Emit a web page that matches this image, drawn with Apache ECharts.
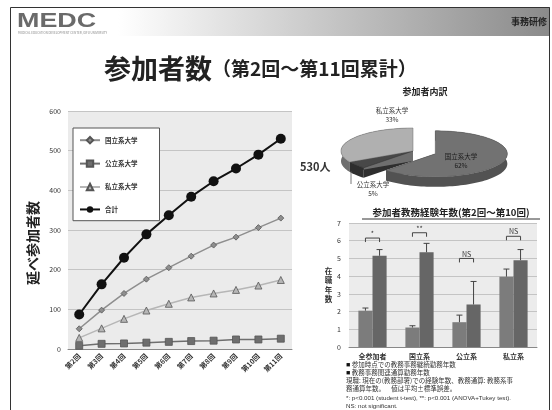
<!DOCTYPE html>
<html><head><meta charset="utf-8">
<script src="https://cdn.jsdelivr.net/npm/echarts@6/dist/echarts.min.js"></script>
<style>html,body{margin:0;padding:0;background:#fff}#c{width:552px;height:410px}</style>
</head><body><div id="c"></div>
<script>
// ---------- data ----------
const rounds = ['第2回','第3回','第4回','第5回','第6回','第7回','第8回','第9回','第10回','第11回'];
const nationalU = [51, 98, 140, 176, 205, 234, 262, 282, 306, 330];
const publicU   = [8, 13, 14, 16, 18, 20, 21, 24, 24, 26];
const privateU  = [28, 52, 76, 97, 114, 130, 140, 149, 160, 174];
const totalU    = [87, 163, 230, 289, 337, 384, 423, 455, 490, 530];
const lineSeriesNames = ['国立系大学','公立系大学','私立系大学','合計'];

const pieNames  = ['国立系大学','公立系大学','私立系大学'];
const pieShares = [62, 5, 33];

const barCats = ['全参加者','国立系','公立系','私立系'];
const barSeriesNames = ['参加時点での教務事務継続勤務年数','教務事務関連通算勤務年数'];
const currentYears = [2.05, 1.1, 1.4, 3.97];
const currentErr   = [0.15, 0.1, 0.4, 0.43];
const careerYears  = [5.15, 5.35, 2.4, 4.9];
const careerErr    = [0.35, 0.5, 1.3, 0.6];
const sigLabels = ['*', '**', 'NS', 'NS'];
const sigLevels = [6.15, 6.45, 5.0, 6.25];

// ---------- helpers ----------
const FONT = '"Noto Sans CJK JP","Noto Sans",sans-serif';
const pieTotal = pieShares.reduce((a, b) => a + b, 0);
const PIE = {cx: 413, cy: 151, rx: 72, ry: 23, depth: 10};
const pieExplode = [24, 0, 0];
const pieTop  = ['#727272', '#484848', '#b0b0b0'];
const pieSide = ['#525252', '#2e2e2e', '#6e6e6e'];

function pieRender(params, api) {
  const i = params.dataIndex;
  let before = 0;
  for (let k = 0; k < i; k++) before += pieShares[k];
  const a0 = before / pieTotal * 2 * Math.PI;
  const a1 = (before + pieShares[i]) / pieTotal * 2 * Math.PI;
  const mid = (a0 + a1) / 2;
  const ex = pieExplode[i];
  const cx = PIE.cx + Math.sin(mid) * ex;
  const cy = PIE.cy - Math.cos(mid) * ex * PIE.ry / PIE.rx;
  const pt = (a, d) => [cx + PIE.rx * Math.sin(a), cy - PIE.ry * Math.cos(a) + d];
  const n = Math.max(4, Math.ceil((a1 - a0) / 0.04));
  const top = [[cx, cy]], arcT = [], arcB = [];
  for (let s = 0; s <= n; s++) {
    const a = a0 + (a1 - a0) * s / n;
    top.push(pt(a, 0)); arcT.push(pt(a, 0)); arcB.push(pt(a, PIE.depth));
  }
  const band = arcT.concat(arcB.reverse());
  const cut = a => [[cx, cy], pt(a, 0), pt(a, PIE.depth), [cx, cy + PIE.depth]];
  return {type: 'group', children: [
    {type: 'polygon', z2: 1, shape: {points: cut(a0)}, style: {fill: pieSide[i]}},
    {type: 'polygon', z2: 1, shape: {points: cut(a1)}, style: {fill: pieSide[i]}},
    {type: 'polygon', z2: 2, shape: {points: band}, style: {fill: pieSide[i]}},
    {type: 'polygon', z2: 10, shape: {points: top}, style: {fill: pieTop[i], stroke: pieSide[i], lineWidth: 0.5}}
  ]};
}

function errRender(params, api) {
  const cat = api.value(0), mean = api.value(1), err = api.value(2), s = api.value(3);
  const bw = api.size([1, 0])[0];
  const off = (s === 0 ? -1 : 1) * bw * 0.15;
  const p0 = api.coord([cat, mean]), p1 = api.coord([cat, mean + err]);
  const x = p0[0] + off, cap = 3;
  return {type: 'group', children: [
    {type: 'line', shape: {x1: x, y1: p0[1], x2: x, y2: p1[1]}, style: {stroke: '#444', lineWidth: 1}},
    {type: 'line', shape: {x1: x - cap, y1: p1[1], x2: x + cap, y2: p1[1]}, style: {stroke: '#444', lineWidth: 1}}
  ]};
}

function sigRender(params, api) {
  const cat = api.value(0), lvl = api.value(1);
  const bw = api.size([1, 0])[0];
  const p = api.coord([cat, lvl]);
  const x1 = p[0] - bw * 0.15, x2 = p[0] + bw * 0.15, y = p[1];
  return {type: 'group', children: [
    {type: 'polyline', shape: {points: [[x1, y + 4], [x1, y], [x2, y], [x2, y + 4]]}, style: {stroke: '#444', lineWidth: 1, fill: null}},
    {type: 'text', style: {text: sigLabels[params.dataIndex], x: p[0], y: y - 1, align: 'center', textAlign: 'center', verticalAlign: 'bottom', textVerticalAlign: 'bottom', fontSize: 7, fontFamily: FONT, fill: '#333'}}
  ]};
}

const chart = echarts.init(document.getElementById('c'), null, {renderer: 'canvas'});

function txt(text, x, y, size, opts) {
  return Object.assign({type: 'text', silent: true, z: 100, style: Object.assign({
    text: text, x: x, y: y, fontSize: size, fontFamily: FONT, fill: '#333',
    align: 'left', textAlign: 'left', verticalAlign: 'middle', textVerticalAlign: 'middle'
  }, opts && opts.style || {})}, opts && opts.el || {});
}

const graphics = [
  // header band
  {type: 'rect', z: 0, shape: {x: 10, y: 7, width: 540, height: 29},
   style: {fill: new echarts.graphic.LinearGradient(0, 0, 1, 0, [
     {offset: 0, color: '#ffffff'}, {offset: 0.2, color: '#ffffff'}, {offset: 1, color: '#8a8a8a'}])}},
  {type: 'rect', z: 100, shape: {x: 10.5, y: 7.5, width: 539, height: 410}, style: {fill: null, stroke: '#333', lineWidth: 1}},
  txt('MEDC', 17, 21, 21, {style: {fontWeight: 'bold', fill: '#6a6a6a', fontFamily: '"Liberation Sans",Arial,sans-serif'}, el: {scaleX: 1.28, originX: 17, originY: 21}}),
  txt('MEDICAL EDUCATION DEVELOPMENT CENTER, GIFU UNIVERSITY', 18, 33, 3, {style: {fill: '#888'}}),
  txt('事務研修', 547, 22, 9, {style: {fontWeight: 'bold', fill: '#222', align: 'right', textAlign: 'right'}}),
  // title
  {type: 'text', silent: true, z: 100, style: {
    text: '{a|参加者数}{b|（第2回～第11回累計）}', x: 104, y: 69,
    verticalAlign: 'middle', textVerticalAlign: 'middle', fill: '#222',
    rich: {a: {fontSize: 27, fontWeight: 'bold', fontFamily: FONT, fill: '#222'},
           b: {fontSize: 19, fontWeight: 'bold', fontFamily: FONT, fill: '#222'}}}},
  // line chart y title
  txt('延べ参加者数', 33, 243, 14, {style: {fontWeight: 'bold', fill: '#222', align: 'center', textAlign: 'center'}, el: {rotation: Math.PI / 2, originX: 33, originY: 243}}),
  // pie annotations
  txt('参加者内訳', 425, 92, 9, {style: {fontWeight: 'bold', fill: '#222', align: 'center', textAlign: 'center'}}),
  txt(totalU[totalU.length - 1] + '人', 300, 167, 11, {style: {fontWeight: 'bold', fill: '#333'}}),
  txt(pieNames[2] + '\n' + pieShares[2] + '%', 392, 115, 6.5, {style: {align: 'center', textAlign: 'center', lineHeight: 9}}),
  txt(pieNames[0] + '\n' + pieShares[0] + '%', 461, 161, 6.5, {style: {align: 'center', textAlign: 'center', lineHeight: 9, fill: '#1a1a1a'}}),
  txt(pieNames[1] + '\n' + pieShares[1] + '%', 373, 189, 6.5, {style: {align: 'center', textAlign: 'center', lineHeight: 9}}),
  {type: 'line', z: 100, shape: {x1: 351, y1: 171, x2: 351, y2: 184}, style: {stroke: '#555', lineWidth: 0.8}},
  // bar chart title
  txt('参加者教務経験年数(第2回～第10回)', 451, 212, 9.5, {style: {fontWeight: 'bold', fill: '#222', align: 'center', textAlign: 'center'}}),
  {type: 'line', z: 100, shape: {x1: 362, y1: 219, x2: 540, y2: 219}, style: {stroke: '#333', lineWidth: 1}},
  // notes
  txt('{s|■} ' + barSeriesNames[0], 346, 365, 6.5, {style: {rich: {s: {fill: '#111', fontSize: 7}}}}),
  txt('{s|■} ' + barSeriesNames[1], 346, 373, 6.5, {style: {rich: {s: {fill: '#111', fontSize: 7}}}}),
  txt('現職: 現在の(教務部署)での経験年数、教務通算: 教務系事', 346, 381, 6.5),
  txt('務通算年数。　  値は平均±標準誤差。', 346, 389, 6.5),
  txt('*: p<0.001 (student t-test), **: p<0.001 (ANOVA+Tukey test).', 346, 398, 6.2, {style: {fontFamily: '"Liberation Sans",Arial,sans-serif'}}),
  txt('NS: not significant.', 346, 406, 6.2, {style: {fontFamily: '"Liberation Sans",Arial,sans-serif'}})
];

const lineColors = ['#8e8e8e', '#6e6e6e', '#b6b6b6', '#111111'];
const lineSymbols = ['diamond', 'rect', 'triangle', 'circle'];
const lineSizes = [6, 7, 7, 10];
const lineData = [nationalU, publicU, privateU, totalU];

const option = {
  animation: false,
  backgroundColor: '#ffffff',
  textStyle: {fontFamily: FONT},
  graphic: graphics,
  legend: {
    data: lineSeriesNames, orient: 'vertical', left: 73, top: 128, width: 72,
    itemGap: 15, itemWidth: 20, itemHeight: 8,
    padding: [8, 22, 8, 6],
    backgroundColor: '#ffffff', borderColor: '#555', borderWidth: 1,
    textStyle: {fontSize: 6.5, color: '#333', fontWeight: 'bold'}
  },
  grid: [
    {left: 68, top: 111, width: 224, height: 238, show: true, backgroundColor: '#ebebeb', borderWidth: 0},
    {left: 349, top: 223, width: 188, height: 124, show: true, backgroundColor: '#ececec', borderWidth: 0}
  ],
  xAxis: [
    {type: 'category', gridIndex: 0, data: rounds,
     axisLine: {lineStyle: {color: '#888'}}, axisTick: {show: false},
     axisLabel: {rotate: 45, fontSize: 7, fontWeight: 'bold', color: '#333', margin: 6, interval: 0}},
    {type: 'category', gridIndex: 1, data: barCats,
     axisLine: {lineStyle: {color: '#888'}}, axisTick: {show: false},
     axisLabel: {fontSize: 7, fontWeight: 'bold', color: '#333', margin: 6, interval: 0}}
  ],
  yAxis: [
    {type: 'value', gridIndex: 0, min: 0, max: 600, interval: 100,
     axisLine: {show: false}, axisTick: {show: false},
     splitLine: {lineStyle: {color: '#c4c4c4'}},
     axisLabel: {fontSize: 7, color: '#333', margin: 7}},
    {type: 'value', gridIndex: 1, min: 0, max: 7, interval: 1,
     axisLine: {show: false}, axisTick: {show: false},
     splitLine: {lineStyle: {color: '#c4c4c4'}},
     axisLabel: {fontSize: 7, color: '#333', margin: 8},
     name: '在\n職\n年\n数', nameLocation: 'middle', nameRotate: 0, nameGap: 16,
     nameTextStyle: {fontSize: 7.5, fontWeight: 'bold', color: '#333', lineHeight: 9.5}}
  ],
  series: lineData.map((d, i) => ({
    type: 'line', name: lineSeriesNames[i], xAxisIndex: 0, yAxisIndex: 0, data: d,
    symbol: lineSymbols[i], symbolSize: lineSizes[i], showAllSymbol: true,
    lineStyle: {color: lineColors[i], width: i === 3 ? 2 : 1.5},
    itemStyle: {color: lineColors[i], borderColor: i === 3 ? '#111' : '#555', borderWidth: i === 3 ? 0 : 0.8},
    z: i === 3 ? 5 : 3
  })).concat([
    {type: 'bar', name: barSeriesNames[0], xAxisIndex: 1, yAxisIndex: 1, data: currentYears,
     barWidth: '30%', barGap: '0%', itemStyle: {color: '#7c7c7c'}},
    {type: 'bar', name: barSeriesNames[1], xAxisIndex: 1, yAxisIndex: 1, data: careerYears,
     barWidth: '30%', barGap: '0%', itemStyle: {color: '#666666'}},
    {type: 'custom', xAxisIndex: 1, yAxisIndex: 1, renderItem: errRender, z: 5,
     data: currentYears.map((v, i) => [i, v, currentErr[i], 0]).concat(careerYears.map((v, i) => [i, v, careerErr[i], 1]))},
    {type: 'custom', xAxisIndex: 1, yAxisIndex: 1, renderItem: sigRender, z: 5,
     data: sigLevels.map((v, i) => [i, v])},
    {type: 'custom', coordinateSystem: 'none', renderItem: pieRender, z: 2,
     data: pieShares.map((v, i) => ({name: pieNames[i], value: v}))}
  ])
};
chart.setOption(option);
</script>
</body></html>
